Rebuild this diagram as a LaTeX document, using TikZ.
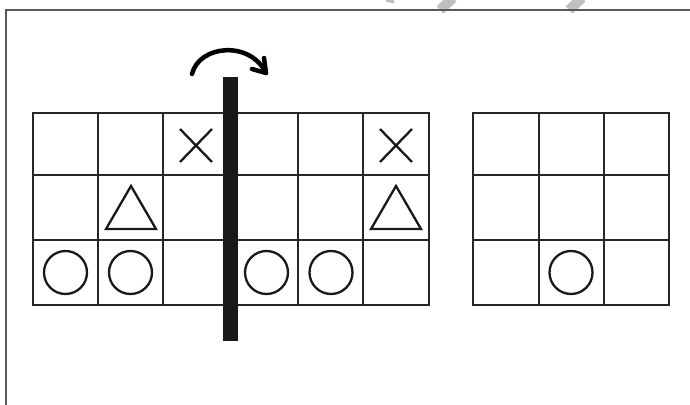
\documentclass[tikz,border=0pt]{standalone}
\begin{document}
\begin{tikzpicture}[x=1pt,y=-1pt,
  gridline/.style={line width=2.8pt,color=black!85,line cap=rect},
  sym/.style={line width=2.3pt,color=black!90},
  ring/.style={circle,draw,sym,minimum size=43pt,inner sep=0pt},
  framel/.style={line width=1.6pt,color=black!65},
  wmark/.style={line width=10pt,color=black!25},
  turn/.style={line width=4.5pt,line cap=round,line join=round}]
\useasboundingbox (0,0) rectangle (690,404);
% watermark fragments
\draw[wmark] (453,-2) -- (440,10);
\draw[wmark] (582,-2) -- (569,10);
\draw[line width=3pt,color=black!25] (386,0) -- (394,2);
% frame
\draw[framel] (6,406) -- (6,10) -- (692,10);
% left grid 6x3
\foreach \x in {33,98,163,231,298,363,429} \draw[gridline] (\x,113) -- (\x,305);
\foreach \y in {113,175,240,305} \draw[gridline] (33,\y) -- (429,\y);
% right grid 3x3
\foreach \x in {473,539,604,669} \draw[gridline] (\x,113) -- (\x,305);
\foreach \y in {113,175,240,305} \draw[gridline] (473,\y) -- (669,\y);
% crosses
\draw[sym] (180,129) -- (212,162) (180,162) -- (212,129);
\draw[sym] (380,129) -- (412,162) (380,162) -- (412,129);
% triangles
\draw[sym,line join=miter] (131,186) -- (156,229) -- (106,229) -- cycle;
\draw[sym,line join=miter] (396,186) -- (421,229) -- (371,229) -- cycle;
% circles
\node[ring] (c1) at (65.5,272.5) {};
\node[ring] (c2) at (130.5,272.5) {};
\node[ring] (c3) at (266.5,272.5) {};
\node[ring] (c4) at (331,272.5) {};
\node[ring] (c5) at (571,272.5) {};
% bar
\fill[black!90] (223,77) rectangle (238,341);
% turning arrow
\coordinate (as) at (192,74);
\coordinate (at) at (266,73);
\draw[turn] (as) .. controls (199,45) and (250,40) .. (at);
\draw[turn] (252,69) -- (at) -- (264,58);
\end{tikzpicture}
\end{document}
